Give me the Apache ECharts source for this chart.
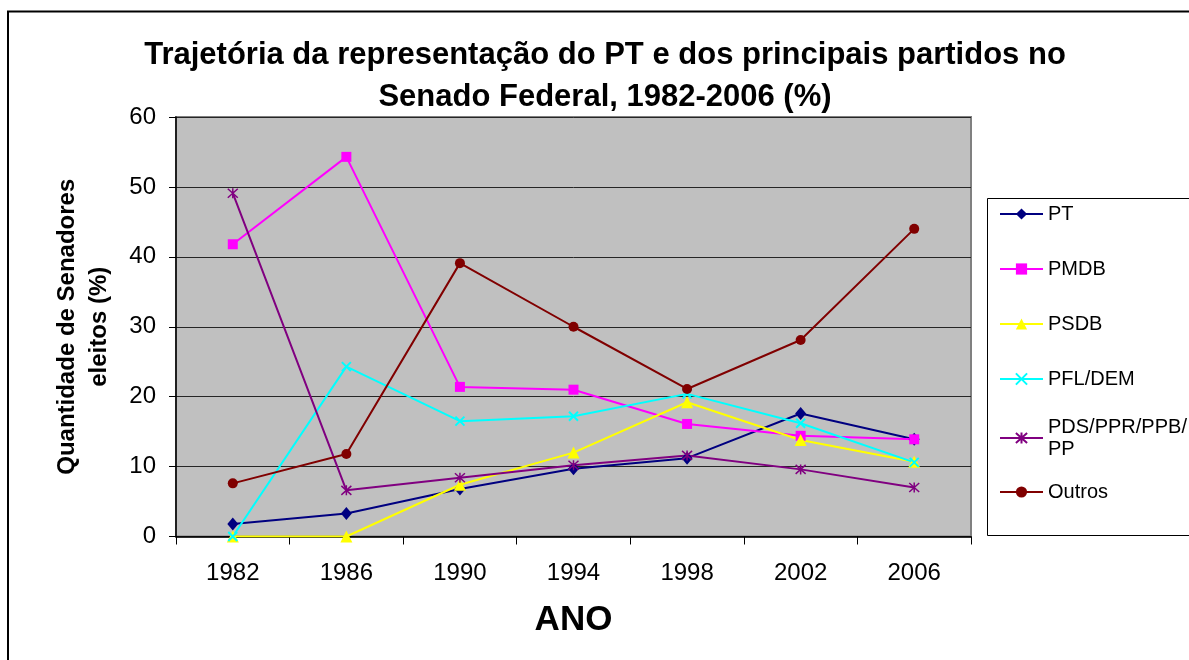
<!DOCTYPE html>
<html>
<head>
<meta charset="utf-8">
<script src="https://cdn.jsdelivr.net/npm/echarts@6/dist/echarts.min.js"></script>
<style>
html,body{margin:0;padding:0;background:#fff;}
#chart{width:1189px;height:660px;}
</style>
</head>
<body>
<div id="chart"></div>
<script>
const years = ['1982', '1986', '1990', '1994', '1998', '2002', '2006'];
const seriesNames = ['PT', 'PMDB', 'PSDB', 'PFL/DEM', 'PDS/PPR/PPB/PP', 'Outros'];
const pt = [1.8, 3.3, 6.8, 9.7, 11.2, 17.6, 13.9];
const pmdb = [41.8, 54.3, 21.4, 21.0, 16.1, 14.4, 13.9];
const psdb = [0, 0, 7.4, 12.0, 19.2, 13.8, 10.7];
const pfl = [0, 24.3, 16.5, 17.2, 20.4, 16.2, 10.6];
const pds = [49.1, 6.6, 8.4, 10.2, 11.6, 9.6, 7.0];
const outros = [7.6, 11.8, 39.1, 30.0, 21.1, 28.1, 44.0];
const yTicks = [0, 10, 20, 30, 40, 50, 60];

const FONT = "'Liberation Sans', Arial, sans-serif";
const xPath = 'path://M0,0L10,10M10,0L0,10';
const starPath = 'path://M5,0L5,10M0.5,0.5L9.5,9.5M9.5,0.5L0.5,9.5';

function mk(name, data, color, symbol, size, extra) {
  return Object.assign({
    name: name,
    type: 'line',
    data: data,
    symbol: symbol,
    symbolSize: size,
    lineStyle: { color: color, width: 2 },
    itemStyle: { color: color },
    emphasis: { disabled: true },
    animation: false
  }, extra || {});
}

const chart = echarts.init(document.getElementById('chart'), null, { renderer: 'canvas' });
chart.setOption({
  backgroundColor: '#ffffff',
  animation: false,
  textStyle: { fontFamily: FONT },
  title: {
    text: 'Trajetória da representação do PT e dos principais partidos no\nSenado Federal, 1982-2006 (%)',
    left: 605,
    textAlign: 'center',
    top: 34,
    padding: 0,
    textStyle: { fontFamily: FONT, fontSize: 31, fontWeight: 'bold', color: '#000', lineHeight: 42 }
  },
  graphic: [
    { type: 'rect', z: 0, shape: { x: 8, y: 11.5, width: 1300, height: 800 }, style: { fill: 'none', stroke: '#000', lineWidth: 2 } },
    { type: 'rect', z: 0, shape: { x: 987.5, y: 198.5, width: 230, height: 337 }, style: { fill: '#fff', stroke: '#000', lineWidth: 1 } }
  ],
  legend: [
    {
      orient: 'vertical',
      left: 999,
      top: 203,
      padding: 0,
      itemWidth: 43,
      itemHeight: 14,
      itemGap: 33,
      data: ['PT', 'PMDB', 'PSDB', 'PFL/DEM'],
      textStyle: { fontFamily: FONT, fontSize: 20, lineHeight: 22, color: '#000' }
    },
    {
      orient: 'vertical',
      left: 999,
      top: 405,
      padding: 0,
      itemWidth: 43,
      itemHeight: 14,
      itemGap: 10,
      data: [
        { name: 'PDS/PPR/PPB/PP', textStyle: { padding: [22, 0, 0, 0] } },
        'Outros'
      ],
      formatter: function (n) { return n === 'PDS/PPR/PPB/PP' ? 'PDS/PPR/PPB/\nPP' : n; },
      textStyle: { fontFamily: FONT, fontSize: 20, lineHeight: 22, color: '#000' }
    }
  ],
  grid: {
    left: 176, top: 117, right: 218, bottom: 123.5,
    show: true, backgroundColor: '#C0C0C0', borderColor: '#808080', borderWidth: 2
  },
  xAxis: {
    type: 'category',
    data: years,
    boundaryGap: true,
    name: 'ANO',
    nameLocation: 'middle',
    nameGap: 66,
    nameTextStyle: { fontFamily: FONT, fontSize: 35, fontWeight: 'bold', color: '#000' },
    axisLine: { lineStyle: { color: '#000', width: 1.5 } },
    axisTick: { show: true, length: 8, lineStyle: { color: '#000' } },
    axisLabel: { margin: 25, fontFamily: FONT, fontSize: 24, color: '#000' },
    splitLine: { show: false }
  },
  yAxis: {
    type: 'value',
    min: yTicks[0],
    max: yTicks[yTicks.length - 1],
    interval: 10,
    name: 'Quantidade de Senadores\neleitos (%)',
    nameLocation: 'middle',
    nameRotate: 90,
    nameGap: 61,
    nameTextStyle: { fontFamily: FONT, fontSize: 24, fontWeight: 'bold', color: '#000', lineHeight: 32 },
    axisLine: { show: true, lineStyle: { color: '#000', width: 1.5 } },
    axisTick: { show: true, length: 7, lineStyle: { color: '#000' } },
    axisLabel: { margin: 20, fontFamily: FONT, fontSize: 24, color: '#000' },
    splitLine: { show: true, lineStyle: { color: '#262626', width: 1 } }
  },
  series: [
    mk('PT', pt, '#000080', 'diamond', [11, 13]),
    mk('PMDB', pmdb, '#FF00FF', 'rect', 10),
    mk('PSDB', psdb, '#FFFF00', 'triangle', 12),
    mk('PFL/DEM', pfl, '#00FFFF', xPath, 9, { itemStyle: { color: '#00FFFF', borderColor: '#00FFFF', borderWidth: 2 } }),
    mk('PDS/PPR/PPB/PP', pds, '#800080', starPath, 10, { itemStyle: { color: '#800080', borderColor: '#800080', borderWidth: 1.5 } }),
    mk('Outros', outros, '#800000', 'circle', 10)
  ]
});
</script>
</body>
</html>
